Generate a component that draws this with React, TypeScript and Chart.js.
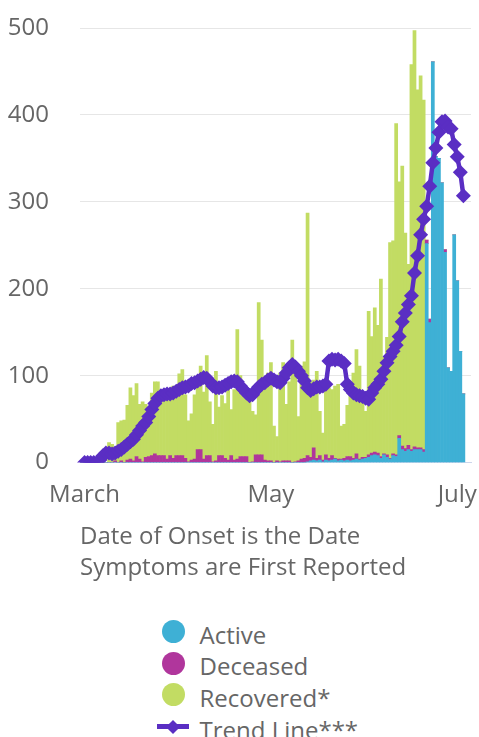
import React, { useEffect, useRef } from 'react';
import { Chart, registerables } from 'chart.js';

Chart.register(...registerables);

// Categories: one per day, starting Feb 29 2020
const firstDay = '2020-02-29';
const dayCount = 128;
const monthTickLabels: Record<string, string> = {
  '2020-03-01': 'March',
  '2020-05-01': 'May',
  '2020-07-01': 'July',
};

const active = [
  0, 0, 0, 0, 0, 0, 0, 0, 0, 0,
  0, 0, 0, 0, 0, 0, 0, 0, 0, 0,
  0, 0, 0, 0, 0, 0, 0, 0, 0, 0,
  0, 0, 0, 0, 0, 0, 0, 0, 0, 0,
  0, 0, 0, 0, 0, 0, 0, 0, 0, 0,
  0, 0, 0, 0, 0, 0, 0, 0, 0, 0,
  0, 0, 0, 0, 0, 0, 0, 0, 0, 0,
  0, 0, 0, 0, 1, 2, 3, 2, 3, 1,
  3, 2, 3, 4, 2, 3, 2, 3, 2, 3,
  4, 3, 4, 5, 6, 8, 9, 8, 5, 9,
  6, 4, 8, 7, 28, 15, 13, 15, 13, 15,
  15, 15, 12, 252, 161, 461, 352, 350, 322, 242,
  109, 105, 262, 209, 128, 79,
];

const deceased = [
  0, 0, 0, 0, 0, 0, 0, 0, 0, 0,
  0, 2, 0, 2, 0, 3, 4, 2, 7, 4,
  1, 6, 7, 8, 10, 8, 8, 8, 4, 8,
  5, 8, 8, 8, 5, 1, 3, 4, 15, 15,
  4, 8, 8, 1, 2, 8, 8, 5, 3, 8,
  3, 4, 7, 7, 7, 0, 1, 9, 9, 9,
  3, 2, 2, 0, 2, 1, 2, 2, 2, 0,
  1, 2, 4, 5, 7, 4, 14, 3, 5, 2,
  6, 3, 5, 1, 2, 1, 3, 4, 5, 2,
  6, 1, 2, 1, 3, 3, 3, 3, 2, 1,
  3, 1, 2, 2, 3, 4, 3, 5, 2, 3,
  2, 2, 3, 4, 4, 0, 0, 0, 0, 3,
  0, 0, 0, 0, 0, 0,
];

const recovered = [
  0, 0, 0, 0, 0, 0, 0, 0, 0, 23,
  21, 6, 46, 46, 49, 63, 82, 75, 84, 63,
  69, 61, 51, 72, 83, 85, 70, 72, 80, 72,
  83, 80, 94, 99, 73, 47, 53, 74, 73, 96,
  77, 115, 62, 43, 103, 56, 69, 63, 92, 53,
  81, 149, 93, 78, 73, 75, 58, 46, 175, 132,
  85, 101, 113, 42, 28, 102, 113, 65, 91, 141,
  106, 51, 107, 111, 279, 87, 78, 100, 51, 31,
  75, 81, 76, 83, 86, 38, 39, 59, 83, 98,
  120, 107, 72, 53, 165, 134, 166, 147, 204, 111,
  135, 248, 245, 381, 292, 322, 248, 208, 443, 479,
  412, 428, 402, 0, 0, 0, 0, 0, 0, 0,
  0, 0, 0, 0, 0, 0,
];

// Trend line starts on March 1 (index 1)
const trend = [
  null, 0, 0, 0, 0, 0, 3, 8, 11, 11,
  10, 11, 13, 15, 18, 21, 24, 27, 32, 37,
  42, 46, 53, 61, 68, 74, 77, 78, 79, 79,
  80, 82, 84, 86, 87, 88, 91, 92, 94, 96,
  98, 97, 93, 88, 86, 86, 87, 89, 91, 93,
  94, 93, 88, 84, 80, 77, 78, 83, 87, 90,
  92, 95, 97, 95, 93, 92, 97, 103, 109, 113,
  110, 105, 100, 94, 86, 83, 85, 87, 87, 88,
  90, 117, 119, 118, 119, 117, 114, 90, 84, 80,
  78, 77, 76, 74, 73, 80, 86, 90, 96, 105,
  115, 122, 128, 135, 145, 162, 172, 182, 192, 218,
  238, 262, 280, 295, 318, 345, 362, 380, 392, 393,
  386, 384, 366, 352, 334, 307,
];

const yTicks = [0, 100, 200, 300, 400, 500];
const titleLines = ['Date of Onset is the Date', 'Symptoms are First Reported'];

const COLORS = {
  active: '#3eb0d5',
  deceased: '#b0369c',
  recovered: '#c2dc63',
  trend: '#5a2ec3',
  text: '#666666',
  grid: '#e6e6e6',
  axis: '#ccd6eb',
};

const FONT = '"Open Sans", "Noto Sans", sans-serif';

function buildLabels(): string[] {
  const [y, m, d] = firstDay.split('-').map(Number);
  const start = Date.UTC(y, m - 1, d);
  const out: string[] = [];
  for (let i = 0; i < dayCount; i++) {
    out.push(new Date(start + i * 86400000).toISOString().slice(0, 10));
  }
  return out;
}

const legendItems = [
  { label: 'Active', color: COLORS.active, kind: 'circle' },
  { label: 'Deceased', color: COLORS.deceased, kind: 'circle' },
  { label: 'Recovered*', color: COLORS.recovered, kind: 'circle' },
  { label: 'Trend Line***', color: COLORS.trend, kind: 'line' },
];

export default function App() {
  const canvasRef = useRef<HTMLCanvasElement | null>(null);

  useEffect(() => {
    document.body.style.margin = '0';
    const canvas = canvasRef.current;
    if (!canvas) return;
    const labels = buildLabels();
    const chart = new Chart(canvas, {
      type: 'bar',
      data: {
        labels,
        datasets: [
          {
            type: 'line',
            label: 'Trend Line***',
            data: trend,
            borderColor: COLORS.trend,
            backgroundColor: COLORS.trend,
            borderWidth: 4.5,
            pointStyle: 'rectRot',
            pointRadius: 7.5,
            pointBorderWidth: 0,
            pointBackgroundColor: COLORS.trend,
            tension: 0,
            fill: false,
            spanGaps: true,
          } as any,
          {
            type: 'bar',
            label: 'Active',
            data: active,
            backgroundColor: COLORS.active,
            borderWidth: 0,
            barPercentage: 1,
            categoryPercentage: 1,
          },
          {
            type: 'bar',
            label: 'Deceased',
            data: deceased,
            backgroundColor: COLORS.deceased,
            borderWidth: 0,
            barPercentage: 1,
            categoryPercentage: 1,
          },
          {
            type: 'bar',
            label: 'Recovered*',
            data: recovered,
            backgroundColor: COLORS.recovered,
            borderWidth: 0,
            barPercentage: 1,
            categoryPercentage: 1,
          },
        ],
      },
      options: {
        responsive: false,
        animation: false,
        layout: { padding: { top: 28, right: 8, bottom: 17, left: 0 } },
        plugins: {
          legend: { display: false },
          tooltip: { enabled: false },
          title: {
            display: true,
            position: 'bottom',
            align: 'start',
            fullSize: false,
            text: titleLines,
            color: COLORS.text,
            font: { family: FONT, size: 24, weight: 'normal', lineHeight: 1.3 },
            padding: { top: 9, bottom: 0 },
          },
        },
        scales: {
          x: {
            stacked: true,
            grid: {
              display: true,
              drawOnChartArea: false,
              drawTicks: true,
              tickLength: 10,
              color: 'transparent',
              tickColor: 'transparent',
            },
            border: { display: true, color: COLORS.axis, width: 1 },
            ticks: {
              autoSkip: false,
              maxRotation: 0,
              minRotation: 0,
              padding: 8,
              color: COLORS.text,
              font: { family: FONT, size: 24 },
              callback: (_v: any, i: number) => monthTickLabels[labels[i]] ?? '',
            },
            afterFit: (s: any) => {
              s.height = 50;
            },
          },
          y: {
            stacked: true,
            min: yTicks[0],
            max: yTicks[yTicks.length - 1],
            afterBuildTicks: (s: any) => {
              s.ticks = yTicks.map((v) => ({ value: v }));
            },
            grid: {
              color: COLORS.grid,
              drawTicks: true,
              tickLength: 31,
              tickColor: 'transparent',
              lineWidth: 1,
            },
            border: { display: false },
            ticks: {
              padding: 0,
              color: COLORS.text,
              font: { family: FONT, size: 24 },
            },
            afterFit: (s: any) => {
              s.width = 80;
            },
          },
        },
      } as any,
    });
    return () => chart.destroy();
  }, []);

  return (
    <div
      style={{
        position: 'relative',
        width: 479,
        height: 737,
        overflow: 'hidden',
        fontFamily: FONT,
        background: '#fff',
      }}
    >
      <canvas
        ref={canvasRef}
        width={479}
        height={601}
        style={{ position: 'absolute', left: 0, top: 0, width: 479, height: 601 }}
      />
      <div style={{ position: 'absolute', left: 157, top: 615.6 }}>
        {legendItems.map((it) => (
          <div
            key={it.label}
            style={{ display: 'flex', alignItems: 'center', height: 31.75 }}
          >
            <div
              style={{
                width: 32,
                height: 31.75,
                position: 'relative',
                flex: '0 0 32px',
              }}
            >
              {it.kind === 'circle' ? (
                <div
                  style={{
                    position: 'absolute',
                    left: 4.5,
                    top: 4.4,
                    width: 23,
                    height: 23,
                    borderRadius: '50%',
                    background: it.color,
                  }}
                />
              ) : (
                <>
                  <div
                    style={{
                      position: 'absolute',
                      left: 0,
                      top: 13.4,
                      width: 32,
                      height: 5,
                      background: it.color,
                    }}
                  />
                  <div
                    style={{
                      position: 'absolute',
                      left: 11,
                      top: 10.9,
                      width: 10,
                      height: 10,
                      background: it.color,
                      transform: 'rotate(45deg)',
                    }}
                  />
                </>
              )}
            </div>
            <span
              style={{
                marginLeft: 10.5,
                fontSize: 24,
                lineHeight: '31.75px',
                color: COLORS.text,
                position: 'relative',
                top: 3,
                whiteSpace: 'nowrap',
              }}
            >
              {it.label}
            </span>
          </div>
        ))}
      </div>
    </div>
  );
}
